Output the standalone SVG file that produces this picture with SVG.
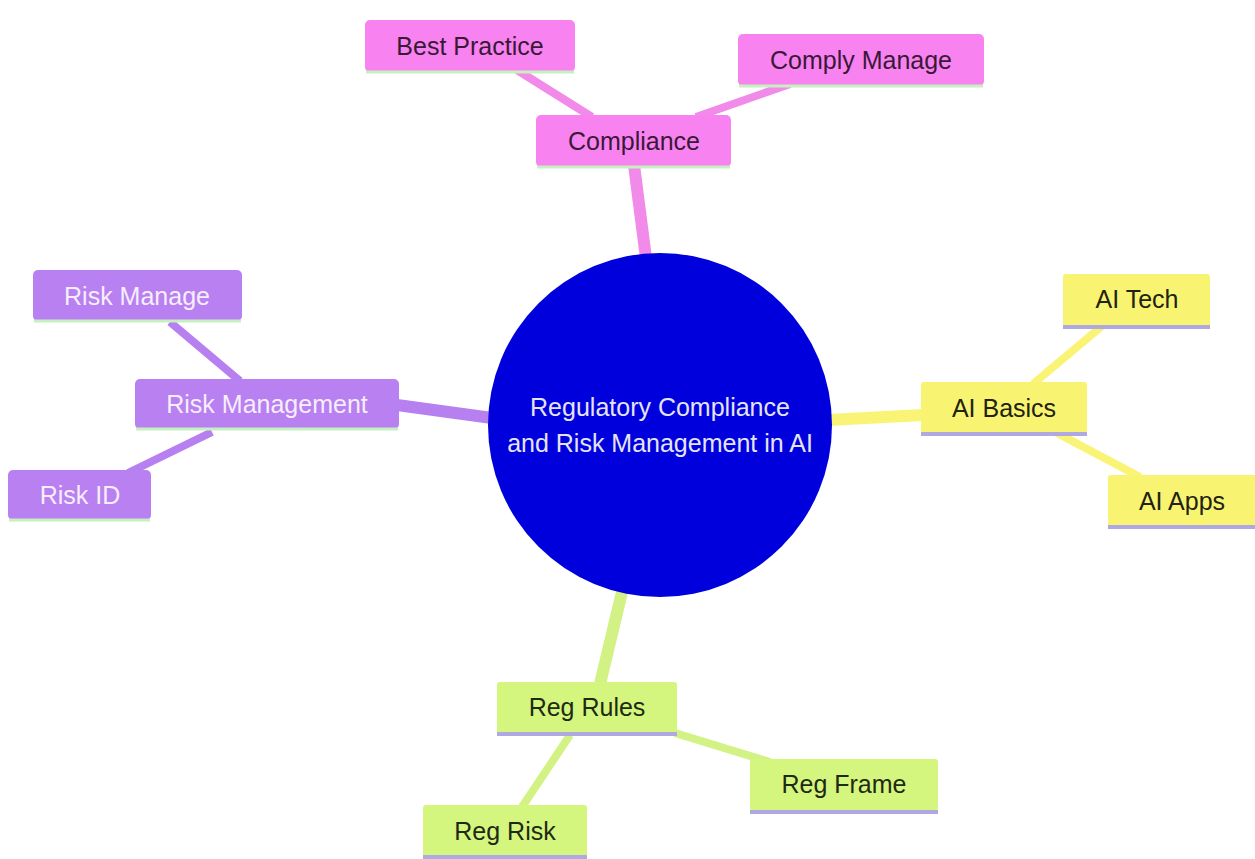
<svg xmlns="http://www.w3.org/2000/svg" width="1255" height="859" viewBox="0 0 1255 859">
<style>
text{font-family:"Liberation Sans",Arial,sans-serif;font-size:25px;text-anchor:middle;dominant-baseline:central}
.pk rect{fill:#f883f0}.pk text{fill:#3a1838}
.pu rect{fill:#b880f0}.pu text{fill:#f6eefc}
.ye rect{fill:#f8f472}.ye text{fill:#222210}
.gr rect{fill:#d4f67e}.gr text{fill:#1e2a12}
.bl1{stroke:#c6f0c0;stroke-width:3}
.bl2{stroke:#b0a8e2;stroke-width:4}
.e{fill:none;stroke-linecap:butt}
.epk{stroke:#f28ae9}.epu{stroke:#b680f0}.eye{stroke:#f9f476}.egr{stroke:#d3f286}
.thick{stroke-width:12}.thin{stroke-width:8}
</style>
<g id="connectors">
<line class="e epk thick" x1="634" y1="165" x2="646" y2="258"/>
<line class="e epk thin" x1="517" y1="70" x2="592" y2="117"/>
<line class="e epk thin" x1="790" y1="84" x2="696" y2="117"/>
<line class="e epu thick" x1="397" y1="405" x2="492" y2="418"/>
<line class="e epu thin" x1="170" y1="322" x2="240" y2="381"/>
<line class="e epu thin" x1="212" y1="432" x2="128" y2="473"/>
<line class="e eye thick" x1="828" y1="420" x2="923" y2="415"/>
<line class="e eye thin" x1="1102" y1="326" x2="1033" y2="384"/>
<line class="e eye thin" x1="1057" y1="433" x2="1140" y2="477"/>
<line class="e egr thick" x1="622" y1="592" x2="600" y2="684"/>
<line class="e egr thin" x1="675" y1="733" x2="770" y2="762"/>
<line class="e egr thin" x1="570" y1="735" x2="522" y2="807"/>
</g>
<g id="root">
<circle cx="660" cy="425" r="172" fill="#0000dc"/>
<text x="660" y="407" fill="#e4e4f6">Regulatory Compliance</text>
<text x="660" y="443" fill="#e4e4f6">and Risk Management in AI</text>
</g>
<g id="compliance" class="pk">
<rect x="536" y="115" width="195" height="52" rx="5"/>
<line class="bl1" x1="537" y1="167" x2="730" y2="167"/>
<text x="634" y="141">Compliance</text>
</g>
<g id="best-practice" class="pk">
<rect x="365" y="20" width="210" height="52" rx="5"/>
<line class="bl1" x1="366" y1="72" x2="574" y2="72"/>
<text x="470" y="46">Best Practice</text>
</g>
<g id="comply-manage" class="pk">
<rect x="738" y="34" width="246" height="52" rx="5"/>
<line class="bl1" x1="739" y1="86" x2="983" y2="86"/>
<text x="861" y="60">Comply Manage</text>
</g>
<g id="risk-management" class="pu">
<rect x="135" y="379" width="264" height="50" rx="5"/>
<line class="bl1" x1="136" y1="429" x2="398" y2="429"/>
<text x="267" y="404">Risk Management</text>
</g>
<g id="risk-manage" class="pu">
<rect x="33" y="270" width="209" height="51" rx="5"/>
<line class="bl1" x1="34" y1="321" x2="241" y2="321"/>
<text x="137" y="296">Risk Manage</text>
</g>
<g id="risk-id" class="pu">
<rect x="8" y="470" width="143" height="50" rx="5"/>
<line class="bl1" x1="9" y1="520" x2="150" y2="520"/>
<text x="80" y="495">Risk ID</text>
</g>
<g id="ai-basics" class="ye">
<rect x="921" y="382" width="166" height="52" rx="3"/>
<line class="bl2" x1="921" y1="434" x2="1087" y2="434"/>
<text x="1004" y="408">AI Basics</text>
</g>
<g id="ai-tech" class="ye">
<rect x="1063" y="274" width="147" height="53" rx="3"/>
<line class="bl2" x1="1063" y1="327" x2="1210" y2="327"/>
<text x="1137" y="299">AI Tech</text>
</g>
<g id="ai-apps" class="ye">
<rect x="1108" y="475" width="150" height="52" rx="3"/>
<line class="bl2" x1="1108" y1="527" x2="1255" y2="527"/>
<text x="1182" y="501">AI Apps</text>
</g>
<g id="reg-rules" class="gr">
<rect x="497" y="682" width="180" height="52" rx="3"/>
<line class="bl2" x1="497" y1="734" x2="677" y2="734"/>
<text x="587" y="707">Reg Rules</text>
</g>
<g id="reg-frame" class="gr">
<rect x="750" y="759" width="188" height="53" rx="3"/>
<line class="bl2" x1="750" y1="812" x2="938" y2="812"/>
<text x="844" y="784">Reg Frame</text>
</g>
<g id="reg-risk" class="gr">
<rect x="423" y="805" width="164" height="52" rx="3"/>
<line class="bl2" x1="423" y1="857" x2="587" y2="857"/>
<text x="505" y="831">Reg Risk</text>
</g>
</svg>
